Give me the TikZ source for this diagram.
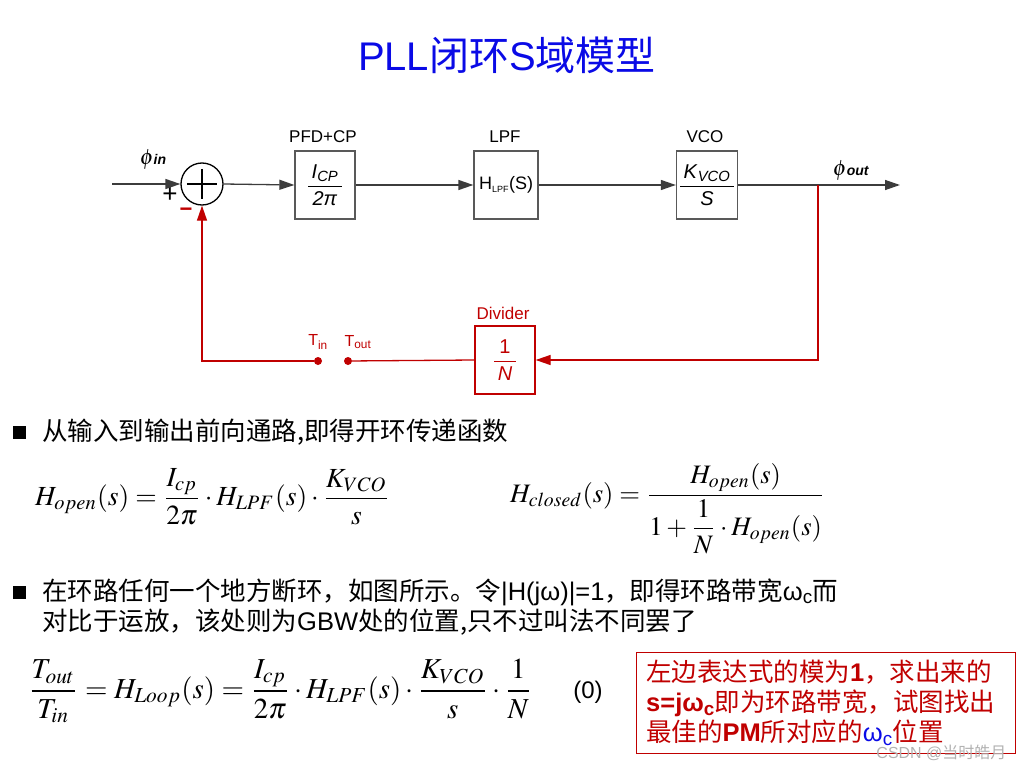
\documentclass[tikz,border=0pt]{standalone}
\usepackage{amsmath}
\usepackage{mathptmx}
\usepackage[no-math]{fontspec}
\setmainfont{Liberation Sans}
\newfontfamily\cjk{Noto Sans CJK SC}
\usepackage{graphicx}
\usepackage{xcolor}
\usetikzlibrary{arrows.meta,calc}
\definecolor{dred}{RGB}{192,0,0}
\definecolor{tblue}{RGB}{10,10,230}
\definecolor{lgray}{RGB}{60,60,60}
\newcommand{\bfr}[2]{$\genfrac{}{}{1.4pt}{0}{\mbox{\,#1\,}}{\mbox{\,#2\,}}$}
\newcommand{\zhsize}{\fontsize{25.5}{30}\selectfont}

\begin{document}
\begin{tikzpicture}[
  x=1pt, y=-1pt,
  blk/.style={draw=black!65, line width=1.3pt, minimum width=60pt, minimum height=68pt, align=center, inner sep=2pt, font=\fontsize{20}{24}\selectfont},
  divblk/.style={blk, draw=dred, text=dred},
  sumnode/.style={circle, draw=black, line width=1.3pt, minimum size=42pt, inner sep=0pt},
  arr/.style={-{Triangle[length=15pt,width=10pt]}, line width=1.3pt, draw=lgray},
  farr/.style={-{Triangle[length=15pt,width=10pt]}, line width=1.3pt, draw=dred},
  fline/.style={line width=1.3pt, draw=dred},
  dot/.style={circle, fill=dred, minimum size=8pt, inner sep=0pt},
  lbl/.style={font=\fontsize{17}{20}\selectfont},
  rlbl/.style={lbl, text=dred},
  zh/.style={anchor=west, inner sep=0pt, font=\zhsize},
  bullet/.style={fill=black, minimum size=13pt, inner sep=0pt},
]
\useasboundingbox (0,0) rectangle (1021,768);
% ---------------- title ----------------
\node[text=tblue, font=\fontsize{40}{48}\selectfont] (title) at (507,55) {PLL{\cjk 闭环}S{\cjk 域模型}};
% ---------------- loop ----------------
\node[sumnode] (sum) at (202,184) {};
\draw[line width=1.3pt] ($(sum.north)!0.15!(sum.south)$) -- ($(sum.north)!0.85!(sum.south)$);
\draw[line width=1.3pt] ($(sum.west)!0.15!(sum.east)$) -- ($(sum.west)!0.85!(sum.east)$);
\node[blk] (pfd) at (325,185) {\bfr{\textit{I}\textsubscript{\textit{CP}}}{\textit{2π}}};
\node[blk, minimum width=64pt, font=\fontsize{18}{22}\selectfont] (lpf) at (506,185) {H\textsubscript{\fontsize{9}{10}\selectfont LPF}(S)};
\node[blk, minimum width=61pt] (vco) at (707,185) {\bfr{\textit{K}\textsubscript{\textit{VCO}}}{\textit{S}}};
\node[divblk] (div) at (505,360) {\bfr{1}{\textit{N}}};
\node[lbl] (pfdl) at (323,137) {PFD+CP};
\node[lbl] (lpfl) at (505,137) {LPF};
\node[lbl] (vcol) at (705,137) {VCO};
\node[rlbl] (divl) at (503,313) {Divider};
\coordinate (in) at (112,184);
\coordinate (out) at (900,185);
\coordinate (tap) at (818,185);
\node[font=\fontsize{22}{24}\selectfont] (phiin) at (153,160) {\boldmath$\phi$\textbf{\textit{\fontsize{14}{16}\selectfont in}}};
\node[font=\fontsize{22}{24}\selectfont] (phiout) at (851,171) {\boldmath$\phi$\textbf{\textit{\fontsize{14}{16}\selectfont out}}};
\node[font=\fontsize{26}{28}\selectfont] (plus) at (170,195) {+};
\node[text=dred, font=\bfseries\fontsize{22}{24}\selectfont] (minus) at (186,212) {−};
\draw[arr] (in) -- (sum.west);
\draw[arr] (sum.east) -- (pfd.west);
\draw[arr] (pfd.east) -- (lpf.west);
\draw[arr] (lpf.east) -- (vco.west);
\draw[arr] (vco.east) -- (out);
% feedback path, broken between T_in and T_out
\node[dot] (tin) at (318,361) {};
\node[dot] (tout) at (348,361) {};
\node[rlbl, font=\fontsize{16}{18}\selectfont] (tinl) at (318,342) {T\textsubscript{in}};
\node[rlbl, font=\fontsize{16}{18}\selectfont] (toutl) at (358,342) {T\textsubscript{out}};
\draw[farr] (tap) |- (div.east);
\draw[fline] (div.west) -- (tout);
\draw[farr] (tin) -| (sum.south);
% ---------------- open loop ----------------
\node[bullet] (b1) at (19,432) {};
\node[zh] (t1) at (42,432) {\cjk 从输入到输出前向通路,即得开环传递函数};
\node[anchor=west, inner sep=0pt] (eqopen) at (35,497) {\resizebox{355pt}{!}{$\displaystyle H_{open}(s)=\frac{I_{cp}}{2\pi}\cdot H_{LPF}(s)\cdot\frac{K_{VCO}}{s}$}};
\node[anchor=west, inner sep=0pt] (eqclosed) at (510,509) {\resizebox{315pt}{!}{$\displaystyle H_{closed}(s)=\frac{H_{open}(s)}{1+\dfrac{1}{N}\cdot H_{open}(s)}$}};
% ---------------- loop gain ----------------
\node[bullet] (b2) at (19,592) {};
\node[zh] (t2) at (42,592) {{\cjk 在环路任何一个地方断环，如图所示。令}|H(jω)|=1{\cjk ，即得环路带宽}ω\textsubscript{c}{\cjk 而}};
\node[zh] (t3) at (42,622) {{\cjk 对比于运放，该处则为}GBW{\cjk 处的位置,只不过叫法不同罢了}};
\node[anchor=west, inner sep=0pt] (eqloop) at (28,691) {\resizebox{504pt}{!}{$\displaystyle \frac{T_{out}}{T_{in}}=H_{Loop}(s)=\frac{I_{cp}}{2\pi}\cdot H_{LPF}(s)\cdot\frac{K_{VCO}}{s}\cdot\frac{1}{N}$}};
\node[font=\fontsize{24}{28}\selectfont] (eqno) at (588,692) {(0)};
\draw[draw=dred, line width=1pt] (636,652) rectangle (1015,753);
\node[zh, text=dred] (n1) at (646,672) {{\cjk 左边表达式的模为}\textbf{1}{\cjk ，求出来的}};
\node[zh, text=dred] (n2) at (646,703) {\textbf{s=jω\textsubscript{c}}{\cjk 即为环路带宽，试图找出}};
\node[zh, text=dred] (n3) at (646,733) {{\cjk 最佳的}\textbf{PM}{\cjk 所对应的}\textcolor{tblue}{ω\textsubscript{c}}{\cjk 位置}};
\node[anchor=east, text=black!30, font=\fontsize{16}{18}\selectfont] (wm) at (1010,753) {CSDN @{\cjk 当时皓月}};
\end{tikzpicture}
\end{document}
